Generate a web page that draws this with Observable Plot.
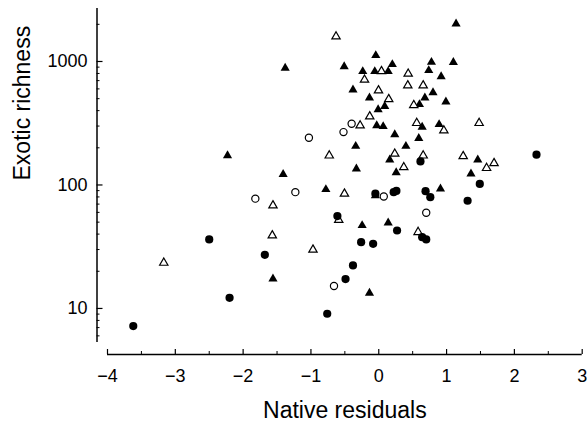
<!DOCTYPE html>
<html><head><meta charset="utf-8">
<script src="https://cdn.jsdelivr.net/npm/d3@7"></script>
<script src="https://cdn.jsdelivr.net/npm/@observablehq/plot@0.6"></script>
<style>body{margin:0;background:#fff}</style>
</head><body><div id="chart"></div>
<script>
// Native residuals (x) vs Exotic richness (y), four site groups
const filledTriangles = [
  [-2.23,173],[-1.41,122],[-1.38,883],[-1.56,17.4],[-0.78,92],[-0.51,911],[-0.044,1119],
  [-0.236,830],[-0.059,830],[0.139,830],[0.20,946],[0.777,987],[0.737,846],[0.80,560],
  [-0.38,590],[-0.137,508],[0.68,508],[0.088,434],[-0.009,408],[0.60,449],[-0.03,303],
  [0.065,298],[0.64,294],[0.236,256],[0.59,239],[-0.34,206],[0.40,206],[0.162,160],
  [-0.33,135],[0.257,126],[1.14,2019],[1.10,986],[0.92,756],[0.99,472],[0.89,309],
  [1.46,160],[1.36,123],[0.91,93],[-0.245,47],[0.139,49.4],[-0.137,13.3],[-0.05,82]
];
const openTriangles = [
  [-3.17,23.4],[-1.56,68.2],[-0.59,52],[-1.57,39],[-0.97,29.9],[-0.506,85],[-0.63,1593],
  [-0.73,173],[0.04,834],[0.434,795],[-0.21,711],[0.428,640],[0.655,640],[-0.004,583],
  [0.147,495],[0.516,443],[-0.133,359],[-0.275,303],[0.56,317],[0.236,179],[0.655,173],
  [0.369,139],[0.96,276],[1.48,317],[1.245,171],[1.70,150],[1.59,137],[0.58,41.5]
];
const filledCircles = [
  [-3.62,7.2],[-2.20,12.2],[-2.50,36.2],[-1.68,27.2],[-0.61,56],[-0.49,17.3],[-0.76,9.06],
  [0.615,155],[2.326,176],[1.49,102],[1.31,74.5],[-0.05,85],[0.22,87.5],[0.26,89.5],
  [0.69,89],[0.76,79.6],[0.27,42.8],[0.64,37.8],[0.70,36.2],[-0.26,34.4],[-0.083,33.4],[-0.38,22.3]
];
const openCircles = [
  [-1.82,77.5],[-1.23,87.5],[-0.66,15.2],[-1.03,241],[-0.52,268],[-0.40,313],[0.074,80.7],[0.70,59.6]
];

const xDomain = [-4, 3];
const yDomain = [5.3, 2686];
const xTicks = [-4, -3, -2, -1, 0, 1, 2, 3];
const xMinorTicks = [-3.5, -2.5, -1.5, -0.5, 0.5, 1.5, 2.5];
const yTicks = [10, 100, 1000];
const yMinorTicks = [6, 7, 8, 9, 20, 30, 40, 50, 60, 70, 80, 90, 200, 300, 400, 500, 600, 700, 800, 900, 2000];
const xTitle = "Native residuals";
const yTitle = "Exotic richness";

const fmt = d3.format("d");
const X = d => d[0], Y = d => d[1];

const chart = Plot.plot({
  width: 587,
  height: 422,
  marginLeft: 107,
  marginRight: 5.3,
  marginTop: 8,
  marginBottom: 80,
  style: {fontFamily: "'Liberation Sans', Arial, Helvetica, sans-serif", background: "#fff", color: "#000"},
  x: {domain: xDomain},
  y: {type: "log", domain: yDomain},
  marks: [
    // axis lines (detached)
    Plot.ruleY([yDomain[0]], {x1: xDomain[0], x2: xDomain[1], dy: 12, strokeWidth: 1.3}),
    Plot.ruleX([xDomain[0]], {y1: yDomain[0], y2: yDomain[1], dx: -10.5, strokeWidth: 1.5}),
    // ticks pointing inward
    Plot.axisX(xTicks, {tickSize: -5, dy: 12, fill: "none", label: null, strokeWidth: 1.2}),
    Plot.axisX(xMinorTicks, {tickSize: -3, dy: 12, fill: "none", label: null, strokeWidth: 1}),
    Plot.axisY(yTicks, {tickSize: -6, dx: -10.5, fill: "none", label: null, strokeWidth: 1.2}),
    Plot.axisY(yMinorTicks, {tickSize: -3, dx: -10.5, fill: "none", label: null, strokeWidth: 1}),
    // tick labels
    Plot.text(xTicks, {x: d => d, frameAnchor: "bottom", dy: 34, text: fmt, fontSize: 18, lineAnchor: "middle"}),
    Plot.text(yTicks, {y: d => d, frameAnchor: "left", dx: -20, text: d => String(d), textAnchor: "end", fontSize: 18}),
    // axis titles
    Plot.text([xTitle], {frameAnchor: "bottom", dy: 68, fontSize: 23, lineAnchor: "middle"}),
    Plot.text([yTitle], {frameAnchor: "left", rotate: -90, dx: -84.5, dy: 5, fontSize: 23, lineAnchor: "middle"}),
    // data
    Plot.dot(filledTriangles, {x: X, y: Y, symbol: "triangle", r: 3.4, fill: "black", stroke: "none"}),
    Plot.dot(openTriangles, {x: X, y: Y, symbol: "triangle", r: 3.1, fill: "white", stroke: "black", strokeWidth: 1.2}),
    Plot.dot(filledCircles, {x: X, y: Y, symbol: "circle", r: 4.1, fill: "black", stroke: "none"}),
    Plot.dot(openCircles, {x: X, y: Y, symbol: "circle", r: 3.6, fill: "white", stroke: "black", strokeWidth: 1.2})
  ]
});
document.getElementById("chart").append(chart);
</script>
</body></html>
